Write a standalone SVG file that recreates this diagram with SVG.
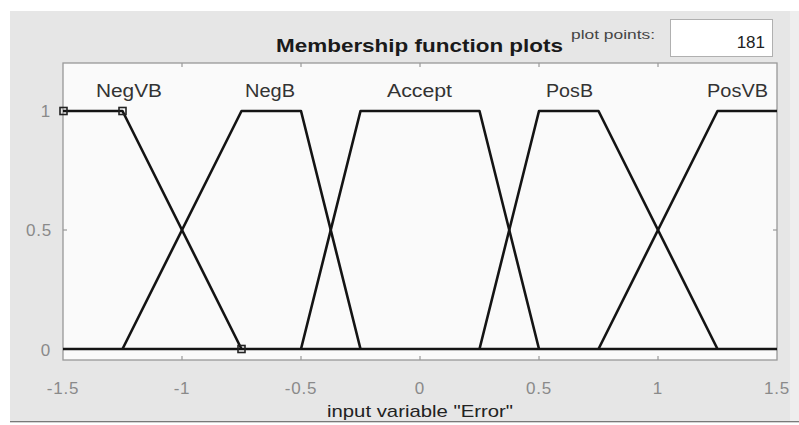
<svg xmlns="http://www.w3.org/2000/svg" width="799" height="425" viewBox="0 0 799 425">
<style>
.tick{font-family:"Liberation Sans",Arial,sans-serif;font-size:17px;fill:#8a8a8a;letter-spacing:0.8px}
.mf{font-family:"Liberation Sans",Arial,sans-serif;font-size:18px;fill:#333;text-anchor:middle}
.curve{fill:none;stroke:#141414;stroke-width:2.6;stroke-linejoin:round}
.tk{stroke:#999;stroke-width:1.2}
.mk{fill:none;stroke:#222;stroke-width:1.6}
</style>
<rect width="799" height="425" fill="#ffffff"/>
<rect x="10" y="11" width="789" height="411" fill="#e6e6e6"/>
<rect x="790" y="11" width="9" height="411" fill="#eeeeee"/>

<g id="title">
<text x="419.5" y="52" font-family="'Liberation Sans',Arial,sans-serif" font-size="19" font-weight="bold" fill="#1a1a1a" text-anchor="middle" textLength="287" lengthAdjust="spacingAndGlyphs">Membership function plots</text>
<text x="571" y="39" font-family="'Liberation Sans',Arial,sans-serif" font-size="12" fill="#444" textLength="84" lengthAdjust="spacingAndGlyphs">plot points:</text>
</g>

<g id="plot-points-box">
<rect x="670.5" y="19.5" width="102" height="37" fill="#ffffff" stroke="#b0b0b0" stroke-width="1"/>
<text x="765" y="48" font-family="'Liberation Sans',Arial,sans-serif" font-size="17" fill="#222" text-anchor="end">181</text>
</g>

<g id="axes">
<rect x="63" y="63" width="714" height="297" fill="#fafafa" stroke="#999" stroke-width="1.3"/>
<line class="tk" x1="182" y1="63" x2="182" y2="67"/>
<line class="tk" x1="301" y1="63" x2="301" y2="67"/>
<line class="tk" x1="420" y1="63" x2="420" y2="67"/>
<line class="tk" x1="539" y1="63" x2="539" y2="67"/>
<line class="tk" x1="658" y1="63" x2="658" y2="67"/>
<line class="tk" x1="182" y1="360" x2="182" y2="356"/>
<line class="tk" x1="301" y1="360" x2="301" y2="356"/>
<line class="tk" x1="420" y1="360" x2="420" y2="356"/>
<line class="tk" x1="539" y1="360" x2="539" y2="356"/>
<line class="tk" x1="658" y1="360" x2="658" y2="356"/>
<line class="tk" x1="63" y1="230" x2="67" y2="230"/>
<line class="tk" x1="777" y1="230" x2="773" y2="230"/>
<text class="tick" x="51" y="117" text-anchor="end">1</text>
<text class="tick" x="52" y="236" text-anchor="end">0.5</text>
<text class="tick" x="51" y="356" text-anchor="end">0</text>
<text class="tick" x="63" y="394" text-anchor="middle">-1.5</text>
<text class="tick" x="182" y="394" text-anchor="middle">-1</text>
<text class="tick" x="301" y="394" text-anchor="middle">-0.5</text>
<text class="tick" x="420" y="394" text-anchor="middle">0</text>
<text class="tick" x="539" y="394" text-anchor="middle">0.5</text>
<text class="tick" x="658" y="394" text-anchor="middle">1</text>
<text class="tick" x="777" y="394" text-anchor="middle">1.5</text>
</g>

<g id="curves">
<line class="curve" x1="63" y1="349" x2="777" y2="349"/>
<polyline id="NegVB" class="curve" points="63,111 122.5,111 241.5,349"/>
<polyline id="NegB" class="curve" points="122.5,349 241.5,111 301,111 360.5,349"/>
<polyline id="Accept" class="curve" points="301,349 360.5,111 479.5,111 539,349"/>
<polyline id="PosB" class="curve" points="479.5,349 539,111 598.5,111 717.5,349"/>
<polyline id="PosVB" class="curve" points="598.5,349 717.5,111 777,111"/>
<rect class="mk" x="60" y="107.5" width="7" height="7"/>
<rect class="mk" x="119" y="107.5" width="7" height="7"/>
<rect class="mk" x="238" y="345.5" width="7" height="7"/>
</g>

<g id="labels">
<text class="mf" x="129" y="97" textLength="66" lengthAdjust="spacingAndGlyphs">NegVB</text>
<text class="mf" x="270" y="97" textLength="50" lengthAdjust="spacingAndGlyphs">NegB</text>
<text class="mf" x="419.5" y="97" textLength="65" lengthAdjust="spacingAndGlyphs">Accept</text>
<text class="mf" x="569.5" y="97" textLength="47" lengthAdjust="spacingAndGlyphs">PosB</text>
<text class="mf" x="737.5" y="97" textLength="61" lengthAdjust="spacingAndGlyphs">PosVB</text>
</g>

<g id="xlabel">
<text x="420" y="417" font-family="'Liberation Sans',Arial,sans-serif" font-size="17" fill="#222" text-anchor="middle" textLength="186" lengthAdjust="spacingAndGlyphs">input variable "Error"</text>
<line x1="10" y1="421.8" x2="799" y2="421.8" stroke="#555" stroke-width="1.2"/>
<rect x="0" y="422.5" width="799" height="3" fill="#ffffff"/>
</g>
</svg>
